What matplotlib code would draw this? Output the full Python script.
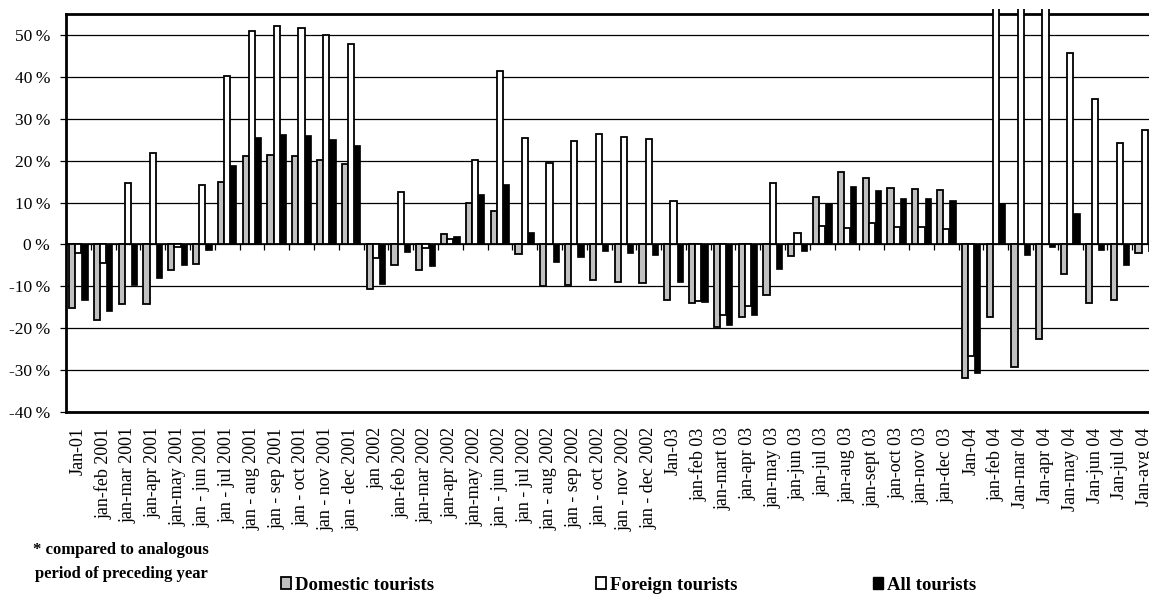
import numpy as np
import matplotlib
matplotlib.use("Agg")
import matplotlib.pyplot as plt
from matplotlib.patches import Patch
from matplotlib.transforms import Bbox, TransformedBbox

plt.rcParams['font.family'] = ['Liberation Serif', 'DejaVu Serif']

# Period labels (cumulative since January)
periods = [
    "Jan-01", "jan-feb 2001", "jan-mar 2001", "jan-apr 2001", "jan-may 2001",
    "jan - jun 2001", "jan - jul 2001", "jan - aug 2001", "jan - sep 2001",
    "jan - oct 2001", "jan - nov 2001", "jan - dec 2001",
    "jan 2002", "jan-feb 2002", "jan-mar 2002", "jan-apr 2002", "jan-may 2002",
    "jan - jun 2002", "jan - jul 2002", "jan - aug 2002", "jan - sep 2002",
    "jan - oct 2002", "jan - nov 2002", "jan - dec 2002",
    "Jan-03", "jan-feb 03", "jan-mart 03", "jan-apr 03", "jan-may 03",
    "jan-jun 03", "jan-jul 03", "jan-aug 03", "jan-sept 03", "jan-oct 03",
    "jan-nov 03", "jan-dec 03",
    "Jan-04", "jan-feb 04", "Jan-mar 04", "Jan-apr 04", "Jan-may 04",
    "Jan-jun 04", "Jan-jul 04", "Jan-avg 04",
]

# % change compared to the same period of the preceding year
domestic = [
    -15.2, -18.0, -14.2, -14.3, -6.0, -4.6, 15.0, 21.0, 21.4, 21.0, 20.2, 19.2,
    -10.6, -4.8, -6.1, 2.5, 9.8, 8.0, -2.2, -9.9, -9.7, -8.6, -9.0, -9.3,
    -13.3, -14.1, -19.8, -17.3, -12.1, -2.8, 11.3, 17.4, 15.9, 13.4, 13.3, 12.9,
    -32.0, -17.3, -29.2, -22.6, -7.1, -14.0, -13.3, -2.0,
]
foreign = [
    -2.0, -4.5, 14.6, 21.8, -0.5, 14.2, 40.3, 51.0, 52.1, 51.6, 50.1, 47.9,
    -3.2, 12.5, -0.8, 1.3, 20.2, 41.3, 25.3, 19.4, 24.8, 26.3, 25.6, 25.2,
    10.3, -13.5, -16.8, -14.8, 14.6, 2.7, 4.5, 3.9, 5.1, 4.1, 4.1, 3.8,
    -26.6, 70.0, 70.0, 70.0, 45.6, 34.7, 24.2, 27.4,
]
all_tourists = [
    -13.3, -16.0, -9.8, -8.0, -5.0, -1.4, 19.0, 25.7, 26.4, 26.0, 25.2, 23.8,
    -9.4, -1.7, -5.2, 2.1, 12.1, 14.5, 3.0, -4.2, -3.0, -1.6, -2.0, -2.5,
    -9.0, -13.7, -19.2, -16.8, -5.8, -1.6, 9.8, 14.0, 13.1, 11.0, 11.0, 10.5,
    -30.8, 9.8, -2.5, -0.5, 7.6, -1.3, -4.9, -1.5,
]

x = np.arange(len(periods))
w = 0.25

fig = plt.figure(figsize=(11.49, 6.10), dpi=100)
ax = fig.add_axes([66 / 1149, 198 / 610, 1091 / 1149, 398 / 610])

b1 = ax.bar(x - w, domestic, w, color='#c0c0c0', edgecolor='black', linewidth=1.3, zorder=3)
b2 = ax.bar(x, foreign, w, color='white', edgecolor='black', linewidth=1.3, zorder=3)
b3 = ax.bar(x + w, all_tourists, w, color='black', edgecolor='black', linewidth=0.5, zorder=3)

ax.set_xlim(-0.5, len(periods) - 0.5)
ax.set_ylim(-40, 55)

# bars that run off the top poke slightly above the frame
clip = TransformedBbox(Bbox.from_extents(-0.5, -40, len(periods) - 0.5, 56.2), ax.transData)
for p in list(b1) + list(b2) + list(b3):
    p.set_clip_box(clip)

ax.set_yticks(np.arange(-40, 51, 10))
ax.set_yticklabels([f"{v}\u2009%" for v in range(-40, 51, 10)], fontsize=12.5)
ax.yaxis.grid(True, color='black', linewidth=0.9)
ax.set_axisbelow(True)
ax.tick_params(axis='y', direction='out', length=4.5, width=0.9, pad=7)

ax.set_xticks(x)
ax.set_xticklabels(periods, rotation=90, fontsize=13)
ax.tick_params(axis='x', length=0, pad=11)

for s in ax.spines.values():
    s.set_linewidth(2)

# category axis crossing at 0% with tick marks between groups
sec = ax.secondary_xaxis(40 / 95)
sec.set_xticks(np.arange(len(periods) - 1) + 0.5)
sec.tick_params(direction='out', length=4, width=0.9, labelbottom=False)
sec.spines['bottom'].set_linewidth(1.2)

fig.text(121 / 1149, 1 - 562 / 610, "* compared to analogous\nperiod of preceding year",
         ha='center', va='center', fontsize=12, fontweight='bold', linespacing=1.75)

leg_font = {'weight': 'bold', 'size': 13.5}
for handle, label, xpos in [
    (Patch(facecolor='#c0c0c0', edgecolor='black', linewidth=1.3), "Domestic tourists", 281),
    (Patch(facecolor='white', edgecolor='black', linewidth=1.3), "Foreign tourists", 596),
    (Patch(facecolor='black', edgecolor='black'), "All tourists", 873),
]:
    fig.legend([handle], [label], loc='center left', bbox_to_anchor=(xpos / 1149, 1 - 585 / 610),
               frameon=False, prop=leg_font, borderpad=0, borderaxespad=0,
               handlelength=0.55, handleheight=0.55, handletextpad=0.2)

fig.savefig("out.png", dpi=100)
